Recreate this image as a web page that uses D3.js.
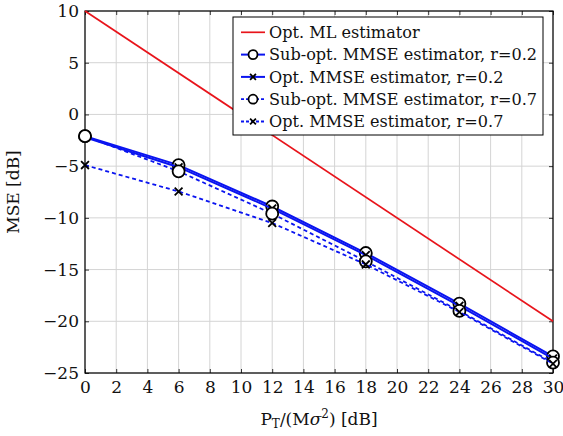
<!DOCTYPE html>
<meta charset="utf-8">
<title>MSE vs transmit power</title>
<script src="https://cdn.jsdelivr.net/npm/d3@7/dist/d3.min.js"></script>
<style>
body { margin: 0; background: #fff; }
svg { display: block; font-family: 'DejaVu Serif', serif; }
</style>
<body>
<script>
// data
const snr = [0, 6, 12, 18, 24, 30];
const mlSnr = [0, 30];
const mlMse = [10, -20];
const subOpt02 = [-2.1, -4.9, -8.9, -13.4, -18.3, -23.4];
const opt02 = [-2.2, -5.1, -9.1, -13.6, -18.5, -23.6];
const subOpt07 = [-2.1, -5.5, -9.6, -14.2, -19.0, -24.0];
const opt07 = [-4.9, -7.45, -10.5, -14.5, -19.1, -24.1];
const xTicks = d3.range(0, 31, 2);
const yTicks = [-25, -20, -15, -10, -5, 0, 5, 10];

const series = [
	{ name: 'Opt. ML estimator', x: mlSnr, y: mlMse, color: '#e8141b', width: 1.7, dash: null, marker: null },
	{ name: 'Sub-opt. MMSE estimator, r=0.2', x: snr, y: subOpt02, color: '#0a14f0', width: 2, dash: null, marker: 'o' },
	{ name: 'Opt. MMSE estimator, r=0.2', x: snr, y: opt02, color: '#0a14f0', width: 2, dash: null, marker: 'x' },
	{ name: 'Sub-opt. MMSE estimator, r=0.7', x: snr, y: subOpt07, color: '#0a14f0', width: 1.8, dash: '4,3', marker: 'o' },
	{ name: 'Opt. MMSE estimator, r=0.7', x: snr, y: opt07, color: '#0a14f0', width: 1.8, dash: '4,3', marker: 'x' },
];

const W = 563, H = 436;
const margin = { top: 11, right: 10, bottom: 63, left: 85 };
const width = W - margin.left - margin.right;
const height = H - margin.top - margin.bottom;
const fontSize = 17;

const minus = s => String(s).replace('-', '\u2212');

const x = d3.scaleLinear().domain([0, 30]).range([0, width]);
const y = d3.scaleLinear().domain([-25, 10]).range([height, 0]);

const svg = d3.select('body').append('svg')
	.attr('width', W)
	.attr('height', H)
	.append('g')
	.attr('transform', `translate(${margin.left},${margin.top})`);

// grid
svg.append('g')
	.selectAll('line')
	.data(xTicks)
	.join('line')
		.attr('x1', d => x(d)).attr('x2', d => x(d))
		.attr('y1', 0).attr('y2', height)
		.attr('stroke', '#d4d4d4');
svg.append('g')
	.selectAll('line')
	.data(yTicks)
	.join('line')
		.attr('y1', d => y(d)).attr('y2', d => y(d))
		.attr('x1', 0).attr('x2', width)
		.attr('stroke', '#d4d4d4');

// axes (ticks pointing inwards, like pgfplots)
const styleAxis = g => {
	g.attr('font-family', null).attr('font-size', null);
	g.select('.domain').remove();
	g.selectAll('line').attr('stroke', '#333');
	g.selectAll('text')
		.attr('font-size', fontSize)
		.attr('fill', '#111');
};
svg.append('g')
	.attr('transform', `translate(0,${height})`)
	.call(d3.axisBottom(x).tickValues(xTicks).tickSize(-4).tickPadding(8))
	.call(styleAxis);
svg.append('g')
	.call(d3.axisTop(x).tickValues(xTicks).tickSize(-4).tickFormat(''))
	.call(styleAxis);
svg.append('g')
	.call(d3.axisLeft(y).tickValues(yTicks).tickSize(-4).tickPadding(6).tickFormat(minus))
	.call(styleAxis);
svg.append('g')
	.attr('transform', `translate(${width},0)`)
	.call(d3.axisRight(y).tickValues(yTicks).tickSize(-4).tickFormat(''))
	.call(styleAxis);

svg.append('rect')
	.attr('width', width)
	.attr('height', height)
	.attr('fill', 'none')
	.attr('stroke', '#000')
	.attr('stroke-width', 1.2);

// markers
function drawMarker(g, type, cx, cy, size) {
	if (type === 'o') {
		g.append('circle')
			.attr('cx', cx).attr('cy', cy).attr('r', size)
			.attr('fill', '#fff')
			.attr('stroke', '#000')
			.attr('stroke-width', 1.8);
	}
	else if (type === 'x') {
		const s = size * 0.65;
		g.append('path')
			.attr('d', `M${cx - s},${cy - s}L${cx + s},${cy + s}M${cx - s},${cy + s}L${cx + s},${cy - s}`)
			.attr('stroke', '#000')
			.attr('stroke-width', 1.8);
	}
}

const line = d3.line().x(d => x(d[0])).y(d => y(d[1]));

series.forEach(s => {
	const pts = s.x.map((v, i) => [v, s.y[i]]);
	const g = svg.append('g');
	g.append('path')
		.attr('d', line(pts))
		.attr('fill', 'none')
		.attr('stroke', s.color)
		.attr('stroke-width', s.width)
		.attr('stroke-dasharray', s.dash);
	if (s.marker) {
		pts.forEach(p => drawMarker(g, s.marker, x(p[0]), y(p[1]), 6));
	}
});

// legend
const legend = svg.append('g')
	.attr('transform', `translate(${233 - margin.left},${17 - margin.top})`);
legend.append('rect')
	.attr('width', 310)
	.attr('height', 118)
	.attr('fill', '#fff')
	.attr('stroke', '#000')
	.attr('stroke-width', 1);
const rows = legend.selectAll('g')
	.data(series)
	.join('g')
	.attr('transform', (d, i) => `translate(0,${15.3 + i * 22.3})`);
rows.append('line')
	.attr('x1', 8).attr('x2', 32)
	.attr('stroke', d => d.color)
	.attr('stroke-width', d => d.width)
	.attr('stroke-dasharray', d => d.dash ? '3,2' : null);
rows.each(function (d) {
	if (d.marker) drawMarker(d3.select(this), d.marker, 20, 0, 4.5);
});
rows.append('text')
	.attr('x', 36)
	.attr('dy', '0.36em')
	.attr('font-size', 16.1)
	.attr('fill', '#111')
	.text(d => d.name);

// axis titles
const xl = svg.append('text')
	.attr('x', width / 2)
	.attr('y', height + 52)
	.attr('text-anchor', 'middle')
	.attr('font-size', fontSize)
	.attr('fill', '#111');
xl.append('tspan').text('P');
xl.append('tspan').attr('font-size', 12).attr('dy', 3).text('T');
xl.append('tspan').attr('dy', -3).text('/(M');
xl.append('tspan').attr('font-style', 'italic').text('σ');
xl.append('tspan').attr('font-size', 12).attr('dy', -7).text('2');
xl.append('tspan').attr('dy', 7).text(') [dB]');

svg.append('text')
	.attr('transform', `translate(${-66},${height / 2}) rotate(-90)`)
	.attr('text-anchor', 'middle')
	.attr('font-size', fontSize)
	.attr('fill', '#111')
	.text('MSE [dB]');
</script>
</body>
